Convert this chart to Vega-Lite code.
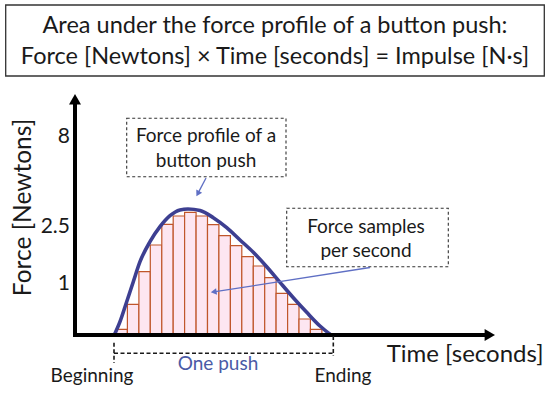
{
  "$schema": "https://vega.github.io/schema/vega-lite/v6.json",
  "width": 550,
  "height": 393,
  "padding": 0,
  "autosize": {"type": "fit", "contains": "padding"},
  "background": "white",
  "config": {"view": {"stroke": null}, "text": {"font": "Lato", "color": "#1a1a1a"}},
  "datasets": {
    "titlebox": [{"x": -69.3, "x2": 469.3, "y": 330, "y2": 259}],
    "titletext": [
      {"x": 200, "y": 301.7, "label": "Area under the force profile of a button push:"},
      {"x": 200, "y": 271, "label": "Force [Newtons] × Time [seconds] = Impulse [N·s]"}
    ],
    "samples": [
      {"t0": 41.0, "t1": 52.4, "f": 5.7},
      {"t0": 52.4, "t1": 63.9, "f": 30.7},
      {"t0": 63.9, "t1": 75.3, "f": 63.3},
      {"t0": 75.3, "t1": 86.8, "f": 90},
      {"t0": 86.8, "t1": 98.2, "f": 110.7},
      {"t0": 98.2, "t1": 109.6, "f": 119},
      {"t0": 109.6, "t1": 121.1, "f": 122.7},
      {"t0": 121.1, "t1": 132.5, "f": 119},
      {"t0": 132.5, "t1": 143.9, "f": 110.3},
      {"t0": 143.9, "t1": 155.4, "f": 99.3},
      {"t0": 155.4, "t1": 166.8, "f": 89.3},
      {"t0": 166.8, "t1": 178.3, "f": 78.3},
      {"t0": 178.3, "t1": 189.7, "f": 69},
      {"t0": 189.7, "t1": 201.1, "f": 57.3},
      {"t0": 201.1, "t1": 212.6, "f": 41.7},
      {"t0": 212.6, "t1": 224.0, "f": 30.7},
      {"t0": 224.0, "t1": 235.4, "f": 16},
      {"t0": 235.4, "t1": 246.9, "f": 5.7}
    ],
    "profile": [
      {"t": 39.3, "f": 0}, {"t": 45, "f": 13.3}, {"t": 51.7, "f": 33.3}, {"t": 58.3, "f": 53.3},
      {"t": 65, "f": 73.3}, {"t": 75, "f": 93.3}, {"t": 85, "f": 108.3}, {"t": 95, "f": 119.3},
      {"t": 105, "f": 125}, {"t": 113, "f": 126}, {"t": 125, "f": 124.5}, {"t": 138.3, "f": 117.3},
      {"t": 151.7, "f": 107.3}, {"t": 165, "f": 95}, {"t": 178.3, "f": 82.7}, {"t": 191.7, "f": 68.3},
      {"t": 205, "f": 52.7}, {"t": 218.3, "f": 37.3}, {"t": 231.7, "f": 22.7}, {"t": 245, "f": 9},
      {"t": 256, "f": 0}
    ],
    "axislines": [
      {"x": -2, "x2": 410, "y": 0, "y2": 0},
      {"x": 0, "x2": 0, "y": -2, "y2": 231}
    ],
    "yarrow": [{"x": 0, "y": 235.8}],
    "xarrow": [{"x": 414.8, "y": 0}],
    "ticks": [
      {"x": -5, "y": 192, "label": "8"},
      {"x": -5, "y": 102, "label": "2.5"},
      {"x": -5, "y": 45, "label": "1"}
    ],
    "ytitle": [{"x": -44.5, "y": 127.5, "label": "Force [Newtons]"}],
    "xtitle": [{"x": 311.7, "y": -26.7, "label": "Time [seconds]"}],
    "ends": [
      {"x": 17, "y": -46.7, "label": "Beginning"},
      {"x": 268, "y": -46.7, "label": "Ending"}
    ],
    "push": [{"x": 143, "y": -35, "label": "One push"}],
    "bracket": [
      {"x": 39, "x2": 39, "y": -7.7, "y2": -28},
      {"x": 258.3, "x2": 258.3, "y": -1, "y2": -21},
      {"x": 39, "x2": 258.3, "y": -18.3, "y2": -18.3}
    ],
    "boxes": [
      {"x": 51.7, "x2": 211, "y": 216.7, "y2": 158.3},
      {"x": 211.7, "x2": 373.3, "y": 126.7, "y2": 68.3}
    ],
    "boxtext": [
      {"x": 131, "y": 193.3, "label": "Force profile of a"},
      {"x": 131, "y": 168.3, "label": "button push"},
      {"x": 291, "y": 101.7, "label": "Force samples"},
      {"x": 291, "y": 78.3, "label": "per second"}
    ],
    "pointers": [
      {"x": 131, "y": 157, "x2": 122.8, "y2": 141.4},
      {"x": 295, "y": 67.5, "x2": 138.7, "y2": 43.1}
    ],
    "tip1": [{"x": 122.8, "y": 141.4}],
    "tip2": [{"x": 138.7, "y": 43.1}]
  },
  "layer": [
    {
      "data": {"name": "titlebox"},
      "mark": {"type": "rect", "fill": "white", "stroke": "#333333", "strokeWidth": 1.3},
      "encoding": {
        "x": {"field": "x", "type": "quantitative", "scale": {"domain": [-75, 475], "nice": false, "zero": false}, "axis": null},
        "x2": {"field": "x2"},
        "y": {"field": "y", "type": "quantitative", "scale": {"domain": [-58, 335], "nice": false, "zero": false}, "axis": null},
        "y2": {"field": "y2"}
      }
    },
    {
      "data": {"name": "titletext"},
      "mark": {"type": "text", "fontSize": 23.5, "align": "center", "baseline": "alphabetic"},
      "encoding": {
        "x": {"field": "x", "type": "quantitative"},
        "y": {"field": "y", "type": "quantitative"},
        "text": {"field": "label"}
      }
    },
    {
      "data": {"name": "samples"},
      "mark": {"type": "rect", "fill": "#fde6f1", "stroke": "#c0562b", "strokeWidth": 1.2},
      "encoding": {
        "x": {"field": "t0", "type": "quantitative"},
        "x2": {"field": "t1"},
        "y": {"field": "f", "type": "quantitative"},
        "y2": {"datum": 0}
      }
    },
    {
      "data": {"name": "profile"},
      "mark": {"type": "line", "color": "#3d3f91", "strokeWidth": 3.6, "interpolate": "monotone"},
      "encoding": {
        "x": {"field": "t", "type": "quantitative"},
        "y": {"field": "f", "type": "quantitative"}
      }
    },
    {
      "data": {"name": "axislines"},
      "mark": {"type": "rule", "color": "black", "strokeWidth": 4},
      "encoding": {
        "x": {"field": "x", "type": "quantitative"},
        "x2": {"field": "x2"},
        "y": {"field": "y", "type": "quantitative"},
        "y2": {"field": "y2"}
      }
    },
    {
      "data": {"name": "yarrow"},
      "mark": {"type": "point", "shape": "triangle-up", "size": 144, "filled": true, "color": "black", "opacity": 1},
      "encoding": {
        "x": {"field": "x", "type": "quantitative"},
        "y": {"field": "y", "type": "quantitative"}
      }
    },
    {
      "data": {"name": "xarrow"},
      "mark": {"type": "point", "shape": "triangle-right", "size": 144, "filled": true, "color": "black", "opacity": 1},
      "encoding": {
        "x": {"field": "x", "type": "quantitative"},
        "y": {"field": "y", "type": "quantitative"}
      }
    },
    {
      "data": {"name": "ticks"},
      "mark": {"type": "text", "fontSize": 21, "align": "right", "baseline": "alphabetic"},
      "encoding": {
        "x": {"field": "x", "type": "quantitative"},
        "y": {"field": "y", "type": "quantitative"},
        "text": {"field": "label"}
      }
    },
    {
      "data": {"name": "ytitle"},
      "mark": {"type": "text", "fontSize": 24.5, "angle": 270, "align": "center", "baseline": "alphabetic"},
      "encoding": {
        "x": {"field": "x", "type": "quantitative"},
        "y": {"field": "y", "type": "quantitative"},
        "text": {"field": "label"}
      }
    },
    {
      "data": {"name": "xtitle"},
      "mark": {"type": "text", "fontSize": 24, "align": "left", "baseline": "alphabetic"},
      "encoding": {
        "x": {"field": "x", "type": "quantitative"},
        "y": {"field": "y", "type": "quantitative"},
        "text": {"field": "label"}
      }
    },
    {
      "data": {"name": "ends"},
      "mark": {"type": "text", "fontSize": 19, "align": "center", "baseline": "alphabetic"},
      "encoding": {
        "x": {"field": "x", "type": "quantitative"},
        "y": {"field": "y", "type": "quantitative"},
        "text": {"field": "label"}
      }
    },
    {
      "data": {"name": "push"},
      "mark": {"type": "text", "fontSize": 19, "align": "center", "baseline": "alphabetic", "color": "#4a5aa6"},
      "encoding": {
        "x": {"field": "x", "type": "quantitative"},
        "y": {"field": "y", "type": "quantitative"},
        "text": {"field": "label"}
      }
    },
    {
      "data": {"name": "bracket"},
      "mark": {"type": "rule", "color": "#1a1a1a", "strokeWidth": 1.6, "strokeDash": [4, 2.5]},
      "encoding": {
        "x": {"field": "x", "type": "quantitative"},
        "x2": {"field": "x2"},
        "y": {"field": "y", "type": "quantitative"},
        "y2": {"field": "y2"}
      }
    },
    {
      "data": {"name": "boxes"},
      "mark": {"type": "rect", "fill": "white", "stroke": "#333333", "strokeWidth": 1.1, "strokeDash": [3, 2.5]},
      "encoding": {
        "x": {"field": "x", "type": "quantitative"},
        "x2": {"field": "x2"},
        "y": {"field": "y", "type": "quantitative"},
        "y2": {"field": "y2"}
      }
    },
    {
      "data": {"name": "boxtext"},
      "mark": {"type": "text", "fontSize": 19, "align": "center", "baseline": "alphabetic"},
      "encoding": {
        "x": {"field": "x", "type": "quantitative"},
        "y": {"field": "y", "type": "quantitative"},
        "text": {"field": "label"}
      }
    },
    {
      "data": {"name": "pointers"},
      "mark": {"type": "rule", "color": "#5f6fc4", "strokeWidth": 1.3},
      "encoding": {
        "x": {"field": "x", "type": "quantitative"},
        "x2": {"field": "x2"},
        "y": {"field": "y", "type": "quantitative"},
        "y2": {"field": "y2"}
      }
    },
    {
      "data": {"name": "tip1"},
      "mark": {"type": "point", "shape": "triangle-up", "size": 45, "angle": 209, "filled": true, "color": "#5f6fc4", "opacity": 1},
      "encoding": {
        "x": {"field": "x", "type": "quantitative"},
        "y": {"field": "y", "type": "quantitative"}
      }
    },
    {
      "data": {"name": "tip2"},
      "mark": {"type": "point", "shape": "triangle-up", "size": 45, "angle": 261.3, "filled": true, "color": "#5f6fc4", "opacity": 1},
      "encoding": {
        "x": {"field": "x", "type": "quantitative"},
        "y": {"field": "y", "type": "quantitative"}
      }
    }
  ]
}
